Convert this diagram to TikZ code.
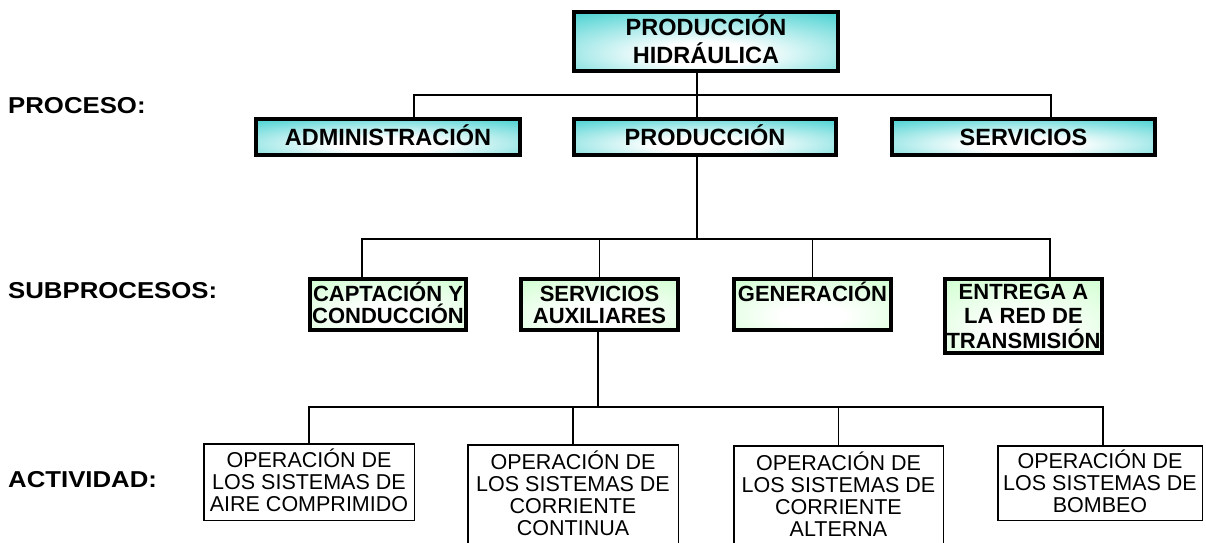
\documentclass[tikz,border=0pt]{standalone}
\usepackage{fontspec}
\setmainfont{Liberation Sans}
\newfontfamily\labfont{Liberation Sans}[FakeStretch=1.12]
\definecolor{tealc}{RGB}{51,204,204}
\definecolor{greenc}{RGB}{204,255,204}
\pgfdeclareradialshading{tealsh}{\pgfpoint{0bp}{-12bp}}{color(0bp)=(white); color(10bp)=(white); color(44bp)=(tealc); color(100bp)=(tealc)}
\pgfdeclareradialshading{greensh}{\pgfpoint{0bp}{-12bp}}{color(0bp)=(white); color(10bp)=(white); color(44bp)=(greenc); color(100bp)=(greenc)}
\begin{document}
\begin{tikzpicture}[x=1pt,y=-1pt,
  conn/.style={line width=1.8pt},
  procbox/.style={draw, line width=3.6pt, shade, shading=tealsh, inner sep=0pt, align=center,
    font=\bfseries\fontsize{23.5}{28}\selectfont, text height=16.8pt, text depth=0pt},
  subbox/.style={draw, line width=3.6pt, shade, shading=greensh, inner sep=0pt, align=center,
    font=\bfseries\fontsize{22}{22.5}\selectfont, text height=38.3pt, text depth=0pt},
  actbox/.style={draw, line width=1.5pt, fill=white, inner sep=0pt, align=center,
    font=\fontsize{21.5}{22}\selectfont, text height=59.4pt, text depth=0pt},
  lab/.style={anchor=base west, inner sep=0pt, font=\labfont\bfseries\fontsize{23}{26}\selectfont}]
\useasboundingbox (0,0) rectangle (1206,542);
\clip (0,0) rectangle (1206,542);

% labels
\node[lab] (l1) at (8,113) {PROCESO:};
\node[lab] (l2) at (8,298) {SUBPROCESOS:};
\node[lab] (l3) at (8,487) {ACTIVIDAD:};

% level 0 and 1
\node[procbox, minimum width=264.4pt, minimum height=59.4pt, text height=44.8pt] (top) at (706,41.5) {PRODUCCIÓN\\HIDRÁULICA};
\node[procbox, minimum width=264.4pt, minimum height=36.4pt] (adm) at (388,137) {ADMINISTRACIÓN};
\node[procbox, minimum width=262.4pt, minimum height=36.4pt] (prod) at (705,137) {PRODUCCIÓN};
\node[procbox, minimum width=263.4pt, minimum height=36.4pt] (serv) at (1023.5,137) {SERVICIOS};

% level 2
\node[subbox, minimum width=156.4pt, minimum height=51.4pt] (capt) at (388,304.5) {CAPTACIÓN Y\\CONDUCCIÓN};
\node[subbox, minimum width=157.4pt, minimum height=51.4pt] (saux) at (599.5,304.5) {SERVICIOS\\AUXILIARES};
\node[subbox, minimum width=157.4pt, minimum height=51.4pt, text height=15.8pt, text depth=22.5pt] (gen) at (812.5,304.5) {GENERACIÓN};
\node[subbox, minimum width=157.4pt, minimum height=74.4pt, text height=64.8pt,
  font=\bfseries\fontsize{22}{24.5}\selectfont] (ent) at (1023.5,316) {ENTREGA A\\LA RED DE\\TRANSMISIÓN};

% level 3
\node[actbox, minimum width=210.5pt, minimum height=76.5pt] (a1) at (309,482) {OPERACIÓN DE\\LOS SISTEMAS DE\\AIRE COMPRIMIDO};
\node[actbox, minimum width=210.5pt, minimum height=100.5pt, text height=81.4pt] (a2) at (573,495) {OPERACIÓN DE\\LOS SISTEMAS DE\\CORRIENTE\\CONTINUA};
\node[actbox, minimum width=209.5pt, minimum height=100.5pt, text height=81.4pt] (a3) at (838.5,496) {OPERACIÓN DE\\LOS SISTEMAS DE\\CORRIENTE\\ALTERNA};
\node[actbox, minimum width=204.5pt, minimum height=74.5pt] (a4) at (1100,483) {OPERACIÓN DE\\LOS SISTEMAS DE\\BOMBEO};

% connectors level 0 -> 1
\coordinate (j1) at (697,95);
\coordinate (h1l) at (414,95);
\coordinate (h1r) at (1051,95);
\draw[conn] (top.south -| j1) -- (j1 |- prod.north);
\draw[conn] (h1l |- adm.north) -- (h1l) -- (h1r) -- (h1r |- serv.north);

% connectors level 1 -> 2
\coordinate (j2) at (697,239);
\coordinate (h2l) at (362,239);
\coordinate (h2r) at (1050,239);
\draw[conn] (prod.south -| j2) -- (j2);
\draw[conn] (h2l |- capt.north) -- (h2l) -- (h2r) -- (h2r |- ent.north);
\draw[conn] (saux.north) -- (saux.north |- j2);
\draw[conn] (gen.north) -- (gen.north |- j2);

% connectors level 2 -> 3
\coordinate (j3) at (598,407);
\coordinate (h3l) at (309,407);
\coordinate (h3r) at (1103,407);
\draw[conn] (saux.south -| j3) -- (j3);
\draw[conn] (h3l |- a1.north) -- (h3l) -- (h3r) -- (h3r |- a4.north);
\draw[conn] (a2.north) -- (a2.north |- j3);
\draw[conn] (a3.north) -- (a3.north |- j3);
\end{tikzpicture}
\end{document}
